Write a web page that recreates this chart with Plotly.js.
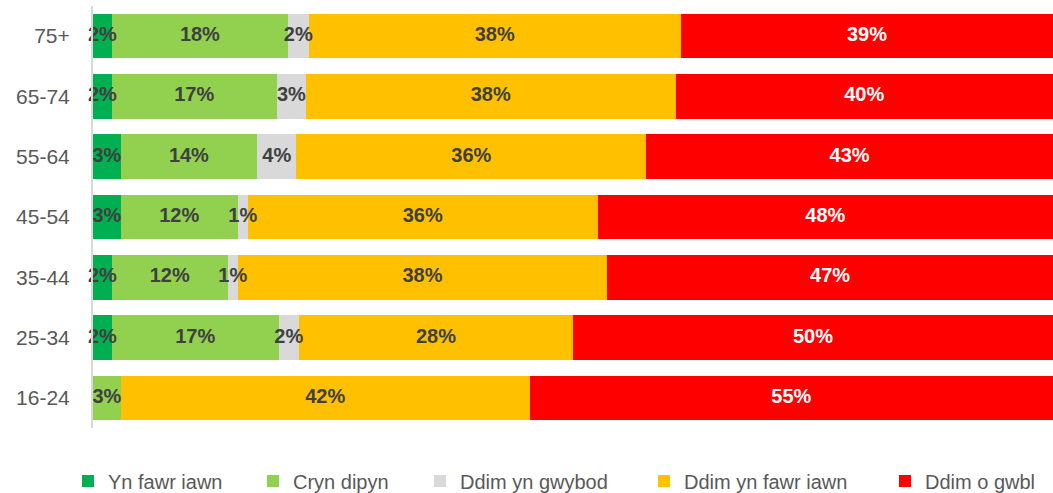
<!DOCTYPE html>
<html>
<head>
<meta charset="utf-8">
<script src="https://cdn.plot.ly/plotly-3.0.1.min.js"></script>
<style>html,body{margin:0;padding:0;background:#fff;}#chart{width:1053px;height:493px;}</style>
</head>
<body>
<div id="chart"></div>
<script>
// Categories (top to bottom)
const categories = ['75+', '65-74', '55-64', '45-54', '35-44', '25-34', '16-24'];

// Series values (percent)
const ynFawrIawn     = [1.95, 1.95, 2.89, 2.89, 1.95, 1.95, 0];
const crynDipyn      = [18.37, 17.19, 14.2, 12.19, 12.09, 17.4, 2.89];
const ddimYnGwybod   = [2.13, 3.05, 4.1, 1.04, 1.04, 2.08, 0];
const ddimYnFawrIawn = [38.8, 38.49, 36.43, 36.44, 38.48, 28.58, 42.59];
const ddimOGwbl      = [38.75, 39.31, 42.38, 47.44, 46.44, 49.98, 54.53];

// Data labels as printed on the chart
const lblYnFawrIawn     = ['2%', '2%', '3%', '3%', '2%', '2%', ''];
const lblCrynDipyn      = ['18%', '17%', '14%', '12%', '12%', '17%', '3%'];
const lblDdimYnGwybod   = ['2%', '3%', '4%', '1%', '1%', '2%', ''];
const lblDdimYnFawrIawn = ['38%', '38%', '36%', '36%', '38%', '28%', '42%'];
const lblDdimOGwbl      = ['39%', '40%', '43%', '48%', '47%', '50%', '55%'];

const seriesNames = ['Yn fawr iawn', 'Cryn dipyn', 'Ddim yn gwybod', 'Ddim yn fawr iawn', 'Ddim o gwbl'];
const seriesValues = [ynFawrIawn, crynDipyn, ddimYnGwybod, ddimYnFawrIawn, ddimOGwbl];
const seriesLabels = [lblYnFawrIawn, lblCrynDipyn, lblDdimYnGwybod, lblDdimYnFawrIawn, lblDdimOGwbl];
const colors = ['#00B050', '#92D050', '#D9D9D9', '#FFC000', '#FF0000'];
const labelColors = ['#404040', '#404040', '#404040', '#404040', '#FFFFFF'];

// legend text start positions (px) for each entry
const legendTextX = [108, 293, 460, 684, 925];

const fontFamily = '"Liberation Sans", Arial, sans-serif';
const W = 1053, H = 493;

const legendNames = ['legend', 'legend2', 'legend3', 'legend4', 'legend5'];

const barTraces = seriesNames.map((name, i) => ({
  type: 'bar',
  orientation: 'h',
  name: name,
  legend: legendNames[i],
  y: categories,
  x: seriesValues[i],
  textposition: 'none',
  marker: {color: colors[i], line: {width: 0}},
  hoverinfo: 'name+x'
}));

// Labels drawn on top of all bars, centred in each segment (cumulative stacking)
const cum = categories.map(() => 0);
const labelTraces = seriesNames.map((name, i) => {
  const mids = seriesValues[i].map((v, j) => {
    const m = cum[j] + v / 2;
    cum[j] += v;
    return m;
  });
  return {
    type: 'scatter',
    mode: 'text',
    x: mids,
    y: categories,
    text: seriesLabels[i],
    textposition: 'middle center',
    textfont: {family: fontFamily, size: 20, color: labelColors[i], weight: 'bold'},
    showlegend: false,
    cliponaxis: false,
    hoverinfo: 'skip'
  };
});

const layout = {
  width: W,
  height: H,
  autosize: false,
  barmode: 'stack',
  bargap: 0.26,
  margin: {l: 93, r: 0, t: 6, b: 65, pad: 0},
  paper_bgcolor: '#ffffff',
  plot_bgcolor: '#ffffff',
  font: {family: fontFamily, color: '#595959', size: 20},
  xaxis: {
    range: [0, 100],
    visible: false,
    showgrid: false,
    zeroline: false,
    fixedrange: true
  },
  yaxis: {
    type: 'category',
    autorange: 'reversed',
    showline: true,
    linecolor: '#D9D9D9',
    linewidth: 2,
    ticks: '',
    showgrid: false,
    zeroline: false,
    ticklabelstandoff: 17,
    tickfont: {family: fontFamily, size: 21, color: '#595959'},
    fixedrange: true
  },
  showlegend: true
};

legendNames.forEach((ln, i) => {
  layout[ln] = {
    orientation: 'h',
    xref: 'container',
    yref: 'container',
    x: (legendTextX[i] - 40) / W,
    xanchor: 'left',
    y: 1 - 481 / H,
    yanchor: 'middle',
    bgcolor: 'rgba(0,0,0,0)',
    font: {family: fontFamily, size: 20, color: '#595959'},
    itemwidth: 30,
    itemclick: false,
    itemdoubleclick: false
  };
});

Plotly.newPlot('chart', barTraces.concat(labelTraces), layout, {displayModeBar: false, staticPlot: true});
</script>
</body>
</html>
